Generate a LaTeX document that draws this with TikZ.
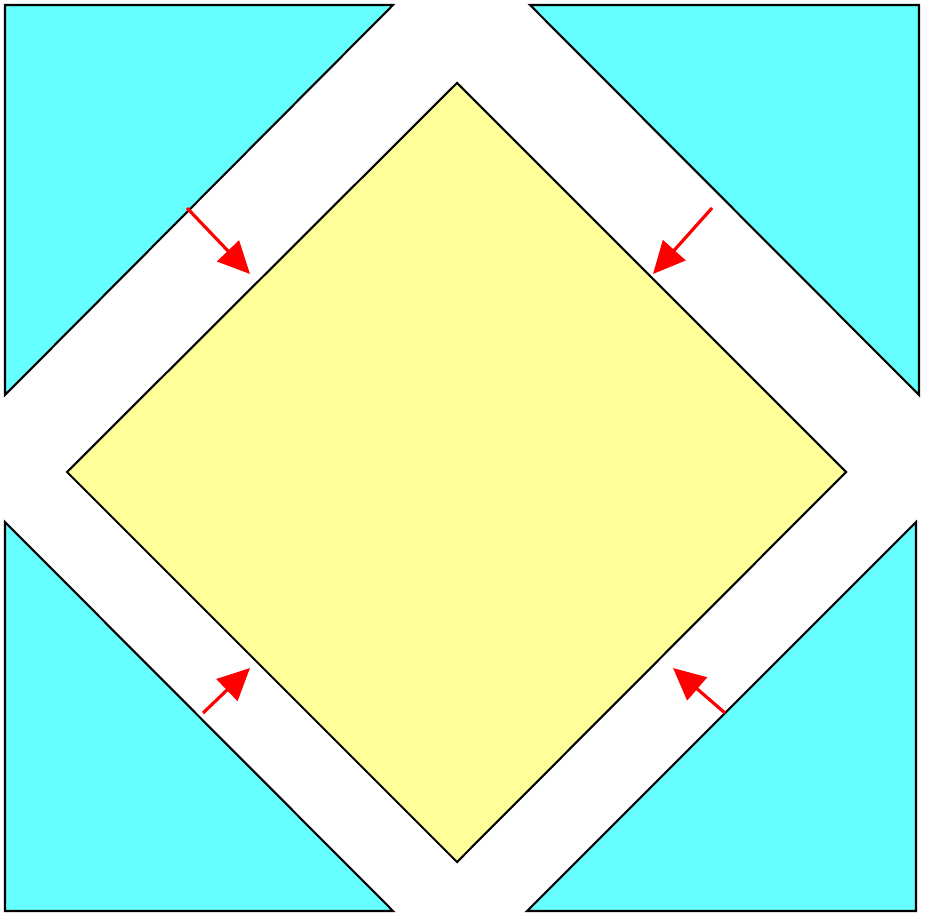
\documentclass[tikz,border=0pt]{standalone}
\usepackage[dvipsnames]{xcolor}
\usetikzlibrary{arrows.meta}
\definecolor{tricyan}{HTML}{66FFFF}
\definecolor{sqyellow}{HTML}{FFFF99}
\tikzset{
  corner/.style={fill=tricyan,draw=black,line width=0.6pt},
  centre/.style={fill=sqyellow,draw=black,line width=0.6pt},
  push/.style={-{Triangle[length=0.32cm,width=0.3cm]},red,line width=0.9pt}
}

\begin{document}
\begin{tikzpicture}
\useasboundingbox (0,0) rectangle (9.25,9.21);
\fill[white] (0,0) rectangle (9.25,9.21);
\draw[corner] (0.05,9.16)--(3.93,9.16)--(0.05,5.26)--cycle;
\draw[corner] (5.30,9.16)--(9.19,9.16)--(9.19,5.26)--cycle;
\draw[corner] (0.05,3.99)--(0.05,0.10)--(3.93,0.10)--cycle;
\draw[corner] (9.16,3.99)--(9.16,0.10)--(5.27,0.10)--cycle;
\draw[centre] (4.57,8.38)--(0.67,4.49)--(4.57,0.59)--(8.46,4.49)--cycle;
\coordinate (tlA) at (1.87,7.13);
\coordinate (tlB) at (2.50,6.47);
\coordinate (trA) at (7.12,7.13);
\coordinate (trB) at (6.53,6.47);
\coordinate (blA) at (2.03,2.08);
\coordinate (blB) at (2.50,2.53);
\coordinate (brA) at (7.25,2.08);
\coordinate (brB) at (6.73,2.53);
\draw[push] (tlA)--(tlB);
\draw[push] (trA)--(trB);
\draw[push] (blA)--(blB);
\draw[push] (brA)--(brB);
\end{tikzpicture}
\end{document}
